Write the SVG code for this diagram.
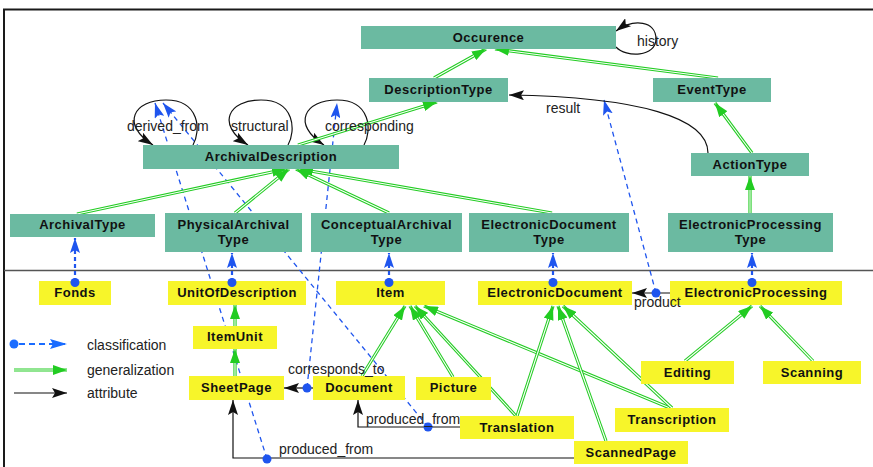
<svg xmlns="http://www.w3.org/2000/svg" width="873" height="467" viewBox="0 0 873 467">
  <defs>
    <style>
      .teal rect { fill: #6bbaa1; }
      .yel rect { fill: #f7f52a; }
      .nt { font-family: "Liberation Sans", Arial, sans-serif; font-weight: bold; font-size: 13px; letter-spacing: 0.5px; fill: #111; text-anchor: middle; }
      .lb { font-family: "Liberation Sans", Arial, sans-serif; font-size: 14px; fill: #222; }
      .go { fill: none; stroke: #22cc22; stroke-width: 3.2; }
      .gi { fill: none; stroke: #fff; stroke-width: 1.1; marker-end: url(#mg); }
      .cl { fill: none; stroke: #1f55ee; stroke-width: 1.3; stroke-dasharray: 5 4; marker-end: url(#mb); }
      .ck { stroke-width: 2.2; stroke-dasharray: 4 3; }
      .at { fill: none; stroke: #111; stroke-width: 1.2; marker-end: url(#mk); }
      .dot { fill: #1f55ee; }
    </style>
    <marker id="mg" markerUnits="userSpaceOnUse" viewBox="0 0 14 10" markerWidth="14" markerHeight="10" refX="14" refY="5" orient="auto">
      <path d="M0,0 L14,5 L0,10 z" fill="#22cc22"/>
    </marker>
    <marker id="mb" markerUnits="userSpaceOnUse" viewBox="0 0 15 10" markerWidth="15" markerHeight="10" refX="15" refY="5" orient="auto">
      <path d="M0,0 L15,5 L0,10 L3,5 z" fill="#1f55ee"/>
    </marker>
    <marker id="mbl" markerUnits="userSpaceOnUse" viewBox="0 0 17 10" markerWidth="17" markerHeight="10" refX="17" refY="5" orient="auto">
      <path d="M0,0 L17,5 L0,10 L3,5 z" fill="#1a6cff"/>
    </marker>
    <marker id="mk" markerUnits="userSpaceOnUse" viewBox="0 0 15 10" markerWidth="15" markerHeight="10" refX="15" refY="5" orient="auto">
      <path d="M0,0 L15,5 L0,10 L3,5 z" fill="#111"/>
    </marker>
  </defs>

  <rect width="873" height="467" fill="#fff"/>

  <!-- frame and level separator -->
  <path d="M4,467 L4,9.5 L873,9.5" fill="none" stroke="#1a1a1a" stroke-width="2"/>
  <path d="M4,270.5 L873,270.5" fill="none" stroke="#555" stroke-width="1.5"/>

  <!-- connectors -->
  <g id="connectors">
    <!-- classification -->
    <path class="cl ck" d="M75,282 L75,238"/>
    <path class="cl ck" d="M232,282 L232,253"/>
    <path class="cl ck" d="M389,282 L389,253"/>
    <path class="cl ck" d="M553,282 L553,253"/>
    <path class="cl ck" d="M752,282 L752,253"/>
    <path class="cl" d="M267,459 L155,103"/>
    <path class="cl" d="M428,427 L163,103"/>
    <path class="cl" d="M307,388 L337,103"/>
    <path class="cl" d="M656,293 L604,100"/>

    <!-- attributes -->
    <path class="at" d="M193,145 C201,131 200,100 166,100 C134,100 120,124 153,145"/>
    <path class="at" d="M288,145 C296,131 295,100 261,100 C229,100 215,124 248,145"/>
    <path class="at" d="M364,145 C372,131 371,100 337,100 C305,100 291,124 324,145"/>
    <path class="at" d="M616,47 C626,58 656,57 656,39 C656,21 634,18 616,31"/>
    <path class="at" d="M708,153 C708,118 640,97 509,95"/>
    <path class="at" d="M670,293 L632,293"/>
    <path class="at" d="M313,388 L284,388"/>
    <path class="at" d="M460,427 L358,427 L358,400"/>
    <path class="at" d="M574,458 L233,458 L233,400"/>

    <!-- generalization -->
    <path class="go" d="M434,78 L486,49"/><path class="gi" d="M434,78 L486,49"/>
    <path class="go" d="M718,78 L495,49"/><path class="gi" d="M718,78 L495,49"/>
    <path class="go" d="M752,153 L715,103"/><path class="gi" d="M752,153 L715,103"/>
    <path class="go" d="M750,213 L750,176"/><path class="gi" d="M750,213 L750,176"/>
    <path class="go" d="M298,145 L437,102"/><path class="gi" d="M298,145 L437,102"/>
    <path class="go" d="M77,214 L286,169"/><path class="gi" d="M77,214 L286,169"/>
    <path class="go" d="M235,213 L289,169"/><path class="gi" d="M235,213 L289,169"/>
    <path class="go" d="M389,213 L296,169"/><path class="gi" d="M389,213 L296,169"/>
    <path class="go" d="M552,213 L299,169"/><path class="gi" d="M552,213 L299,169"/>
    <path class="go" d="M235,326 L235,305"/><path class="gi" d="M235,326 L235,305"/>
    <path class="go" d="M235,376 L235,349"/><path class="gi" d="M235,376 L235,349"/>
    <path class="go" d="M362,376 L405,306"/><path class="gi" d="M362,376 L405,306"/>
    <path class="go" d="M453,377 L410,306"/><path class="gi" d="M453,377 L410,306"/>
    <path class="go" d="M516,416 L415,306"/><path class="gi" d="M516,416 L415,306"/>
    <path class="go" d="M670,408 L424,306"/><path class="gi" d="M670,408 L424,306"/>
    <path class="go" d="M517,416 L553,306"/><path class="gi" d="M517,416 L553,306"/>
    <path class="go" d="M606,441 L558,306"/><path class="gi" d="M606,441 L558,306"/>
    <path class="go" d="M672,408 L563,306"/><path class="gi" d="M672,408 L563,306"/>
    <path class="go" d="M685,361 L752,306"/><path class="gi" d="M685,361 L752,306"/>
    <path class="go" d="M813,361 L760,306"/><path class="gi" d="M813,361 L760,306"/>
  </g>

  <!-- upper level: types -->
  <g id="Occurence" class="teal"><rect x="361" y="26" width="255" height="23"/><text class="nt" x="488.5" y="41.5">Occurence</text></g>
  <g id="DescriptionType" class="teal"><rect x="369" y="78" width="139" height="24"/><text class="nt" x="438.5" y="94">DescriptionType</text></g>
  <g id="EventType" class="teal"><rect x="653" y="78" width="118" height="24"/><text class="nt" x="712" y="94">EventType</text></g>
  <g id="ActionType" class="teal"><rect x="691" y="153" width="118" height="23"/><text class="nt" x="750" y="169">ActionType</text></g>
  <g id="ArchivalDescription" class="teal"><rect x="143" y="145" width="256" height="24"/><text class="nt" x="271" y="161">ArchivalDescription</text></g>
  <g id="ArchivalType" class="teal"><rect x="10" y="214" width="145" height="23"/><text class="nt" x="82.5" y="229">ArchivalType</text></g>
  <g id="PhysicalArchivalType" class="teal"><rect x="165" y="213" width="137" height="39"/><text class="nt" x="233.5" y="229">PhysicalArchival</text><text class="nt" x="233.5" y="244">Type</text></g>
  <g id="ConceptualArchivalType" class="teal"><rect x="311" y="213" width="151" height="39"/><text class="nt" x="386.5" y="229">ConceptualArchival</text><text class="nt" x="386.5" y="244">Type</text></g>
  <g id="ElectronicDocumentType" class="teal"><rect x="469" y="213" width="160" height="39"/><text class="nt" x="549" y="229">ElectronicDocument</text><text class="nt" x="549" y="244">Type</text></g>
  <g id="ElectronicProcessingType" class="teal"><rect x="668" y="213" width="165" height="39"/><text class="nt" x="750.5" y="229">ElectronicProcessing</text><text class="nt" x="750.5" y="244">Type</text></g>

  <!-- lower level: instances -->
  <g id="Fonds" class="yel"><rect x="39" y="281" width="72" height="24"/><text class="nt" x="75" y="297">Fonds</text></g>
  <g id="UnitOfDescription" class="yel"><rect x="168" y="281" width="138" height="24"/><text class="nt" x="237" y="297">UnitOfDescription</text></g>
  <g id="Item" class="yel"><rect x="336" y="281" width="109" height="24"/><text class="nt" x="390.5" y="297">Item</text></g>
  <g id="ElectronicDocument" class="yel"><rect x="478" y="281" width="154" height="24"/><text class="nt" x="555" y="297">ElectronicDocument</text></g>
  <g id="ElectronicProcessing" class="yel"><rect x="670" y="281" width="172" height="24"/><text class="nt" x="756" y="297">ElectronicProcessing</text></g>
  <g id="ItemUnit" class="yel"><rect x="193" y="326" width="84" height="23"/><text class="nt" x="235" y="341">ItemUnit</text></g>
  <g id="SheetPage" class="yel"><rect x="189" y="376" width="95" height="24"/><text class="nt" x="236.5" y="392">SheetPage</text></g>
  <g id="Document" class="yel"><rect x="313" y="376" width="92" height="24"/><text class="nt" x="359" y="392">Document</text></g>
  <g id="Picture" class="yel"><rect x="416" y="377" width="75" height="23"/><text class="nt" x="453.5" y="392">Picture</text></g>
  <g id="Translation" class="yel"><rect x="460" y="416" width="114" height="23"/><text class="nt" x="517" y="431.5">Translation</text></g>
  <g id="Transcription" class="yel"><rect x="615" y="408" width="114" height="24"/><text class="nt" x="672" y="424">Transcription</text></g>
  <g id="ScannedPage" class="yel"><rect x="574" y="441" width="114" height="23"/><text class="nt" x="631" y="456.5">ScannedPage</text></g>
  <g id="Editing" class="yel"><rect x="641" y="361" width="93" height="23"/><text class="nt" x="687.5" y="377">Editing</text></g>
  <g id="Scanning" class="yel"><rect x="763" y="361" width="98" height="23"/><text class="nt" x="812" y="377">Scanning</text></g>

  <!-- connector sources and labels -->
  <g id="connector-labels">
    <circle class="dot" cx="75" cy="282.5" r="4.5"/>
    <circle class="dot" cx="232" cy="282.5" r="4.5"/>
    <circle class="dot" cx="389" cy="282.5" r="4.5"/>
    <circle class="dot" cx="553" cy="282.5" r="4.5"/>
    <circle class="dot" cx="752" cy="282.5" r="4.5"/>
    <circle class="dot" cx="267" cy="459" r="4.5"/>
    <circle class="dot" cx="428" cy="427" r="4.5"/>
    <circle class="dot" cx="307" cy="388" r="4.5"/>
    <circle class="dot" cx="656" cy="293" r="4.5"/>
    <text class="lb" x="637" y="46">history</text>
    <text class="lb" x="546" y="113">result</text>
    <text class="lb" x="127" y="131">derived_from</text>
    <text class="lb" x="231" y="131">structural</text>
    <text class="lb" x="325" y="131">corresponding</text>
    <text class="lb" x="634" y="307">product</text>
    <text class="lb" x="288" y="374">corresponds_to</text>
    <text class="lb" x="366" y="424">produced_from</text>
    <text class="lb" x="279" y="454">produced_from</text>
  </g>

  <!-- legend -->
  <g id="legend">
    <circle cx="14" cy="344" r="4.5" fill="#1a6cff"/>
    <path d="M19,344 L67,344" fill="none" stroke="#1a6cff" stroke-width="2" stroke-dasharray="6 4" marker-end="url(#mbl)"/>
    <path class="go" d="M14,370 L67,370"/><path class="gi" d="M14,370 L67,370"/>
    <path class="at" d="M14,393 L67,393"/>
    <text class="lb" x="87" y="349.5">classification</text>
    <text class="lb" x="87" y="374.5">generalization</text>
    <text class="lb" x="87" y="397.5">attribute</text>
  </g>
</svg>
